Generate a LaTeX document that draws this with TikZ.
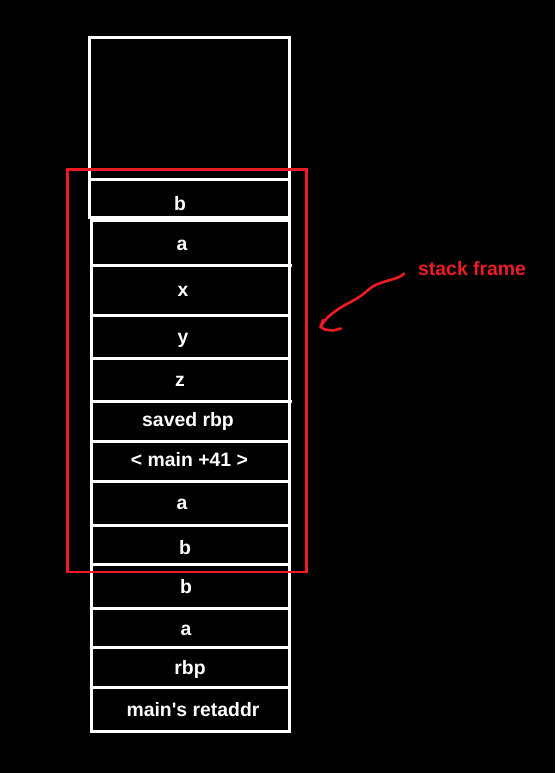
\documentclass[tikz,border=0pt]{standalone}
\usepackage{fontspec}
\setmainfont{Liberation Sans}
\definecolor{paintred}{RGB}{237,28,36}
\begin{document}
\begin{tikzpicture}[x=1pt,y=-1pt,
  cell/.style={draw=white,line width=3pt},
  lbl/.style={text=white,font=\fontsize{19.4}{21}\selectfont\bfseries,anchor=base,inner sep=0pt},
  frame/.style={draw=paintred,line width=2.6pt},
  scribble/.style={draw=paintred,line width=2.6pt,line cap=round,line join=round}]
\fill[black] (0,0) rectangle (555,773);
\useasboundingbox (0,0) rectangle (555,773);
% upper part of the stack
\draw[cell] (89.5,37.5) rectangle (289.5,217.5);
\draw[cell] (89.5,179.5) -- (289.5,179.5);
% lower part of the stack
\draw[cell] (91,220) rectangle (289.5,731);
\foreach \yy/\xr in {265.5/292,315/289.5,358.5/289.5,401.5/292,441.5/289.5,481/289.5,525.5/289.5,564.5/289.5,608/289.5,647.5/289.5,687.5/289.5}
  \draw[cell] (91,\yy) -- (\xr,\yy);
% labels
\node[lbl] (l1) at (180,210) {b};
\node[lbl] (l2) at (182,250) {a};
\node[lbl] (l3) at (183,296) {x};
\node[lbl] (l4) at (183,343.5) {y};
\node[lbl] (l5) at (180,386.5) {z};
\node[lbl] (l6) at (188,426.5) {saved rbp};
\node[lbl] (l7) at (189.5,466.5) {< main +41 >};
\node[lbl] (l8) at (182,509) {a};
\node[lbl] (l9) at (185,554) {b};
\node[lbl] (l10) at (186,593) {b};
\node[lbl] (l11) at (186,635.5) {a};
\node[lbl] (l12) at (190,674) {rbp};
\node[lbl] (l13) at (193,716.5) {main\textquotesingle s retaddr};
% stack frame box
\draw[frame] (67.5,169.5) rectangle (306.5,572);
\node[lbl,text=paintred,anchor=base west] (sf) at (418,275) {stack frame};
% hand drawn arrow
\coordinate (a0) at (404,273.5);
\coordinate (tip) at (320.5,327);
\draw[scribble] plot[smooth,tension=0.6] coordinates {(a0) (398,277.5) (382,282.5) (372,287) (360,296.5) (340,308) (327,318) (tip)}
  -- (325,329.5) -- (333,330.5) -- (341,328.5);
\draw[scribble] (tip) -- (323,320);
\end{tikzpicture}
\end{document}
